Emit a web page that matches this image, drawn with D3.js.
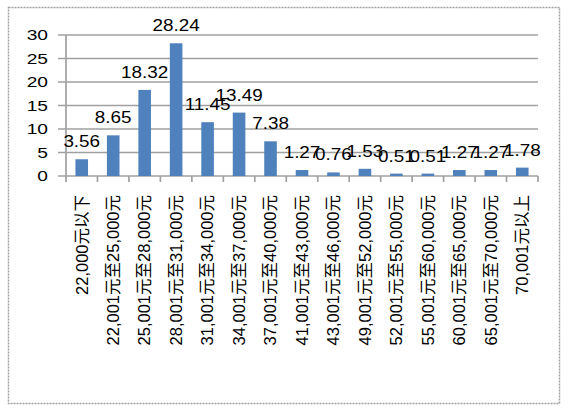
<!DOCTYPE html>
<html><head><meta charset="utf-8">
<script src="https://cdn.jsdelivr.net/npm/d3@7"></script>
<style>body{margin:0;background:#fff}</style>
</head><body>
<script>
const categories = ["22,000元以下","22,001元至25,000元","25,001元至28,000元","28,001元至31,000元","31,001元至34,000元","34,001元至37,000元","37,001元至40,000元","41,001元至43,000元","43,001元至46,000元","49,001元至52,000元","52,001元至55,000元","55,001元至60,000元","60,001元至65,000元","65,001元至70,000元","70,001元以上"];
const values = [3.56,8.65,18.32,28.24,11.45,13.49,7.38,1.27,0.76,1.53,0.51,0.51,1.27,1.27,1.78];
const yTicks = [0,5,10,15,20,25,30];

const W=570,H=412;
const svg=d3.select("body").append("svg").attr("width",W).attr("height",H);
const font='"Liberation Sans","Noto Sans CJK SC",sans-serif';
svg.append("rect").attr("x",8.5).attr("y",7.5).attr("width",551).attr("height",396)
  .attr("fill","#fff").attr("stroke","#a0a0a0").attr("stroke-width",1.5).attr("stroke-dasharray","2,1");

const x=d3.scaleBand().domain(categories).range([66,538]).paddingInner(0.6).paddingOuter(0.3);
const y=d3.scaleLinear().domain([0,30]).range([176,35]);

const g=svg.append("g");
g.selectAll("line.grid").data(yTicks).join("line")
  .attr("x1",58).attr("x2",538).attr("y1",d=>y(d)).attr("y2",d=>y(d))
  .attr("stroke","#a0a0a0").attr("stroke-width",1.7);
g.append("line").attr("x1",66).attr("x2",66).attr("y1",35).attr("y2",176).attr("stroke","#a0a0a0").attr("stroke-width",1.7);
g.selectAll("text.yl").data(yTicks).join("text")
  .attr("transform",d=>`translate(48,${y(d)}) scale(1.28,1)`).attr("dy","0.36em").attr("text-anchor","end")
  .attr("font-family",font).attr("font-size",15).attr("fill","#000").text(d=>d);
g.selectAll("rect.bar").data(values).join("rect")
  .attr("x",(d,i)=>x(categories[i])).attr("width",x.bandwidth())
  .attr("y",d=>y(d)).attr("height",d=>y(0)-y(d)).attr("fill","#4f81bd");
const n=categories.length;
const bounds=d3.range(n+1).map(i=>x.range()[0]+i*(x.range()[1]-x.range()[0])/n);
g.selectAll("line.xt").data(bounds).join("line")
  .attr("x1",d=>d).attr("x2",d=>d).attr("y1",176).attr("y2",182)
  .attr("stroke","#a0a0a0").attr("stroke-width",1.7);
g.selectAll("text.vl").data(values).join("text")
  .attr("transform",(d,i)=>`translate(${x(categories[i])+x.bandwidth()/2},${y(d)-12}) scale(1.18,1)`)
  .attr("text-anchor","middle").attr("font-family",font).attr("font-size",16).attr("fill","#000")
  .text(d=>d.toFixed(2));
g.selectAll("text.cl").data(categories).join("text")
  .attr("transform",d=>`translate(${x(d)+x.bandwidth()/2},195) rotate(-90)`)
  .attr("text-anchor","end").attr("dy","0.35em")
  .attr("font-family",font).attr("font-size",16.5).attr("fill","#000").text(d=>d);
</script>
</body></html>
